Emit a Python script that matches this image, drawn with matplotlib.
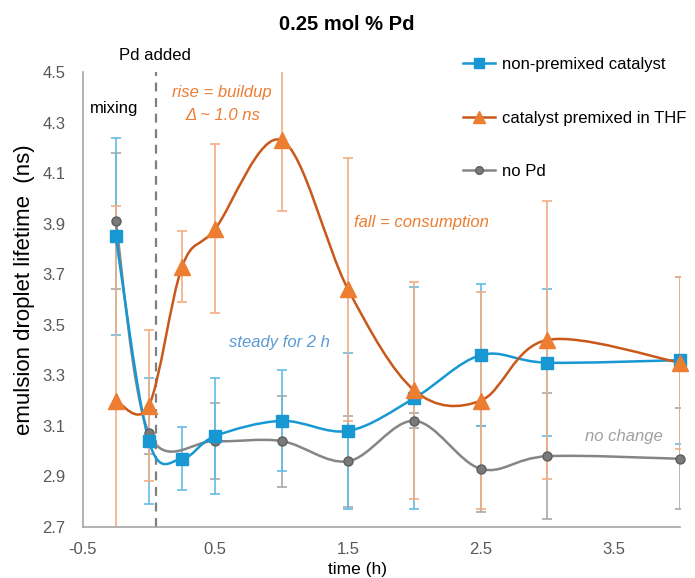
import numpy as np
import matplotlib
matplotlib.use("Agg")
import matplotlib.pyplot as plt
from matplotlib.path import Path
from matplotlib.patches import PathPatch
from matplotlib.lines import Line2D

plt.rcParams['font.family'] = ['Liberation Sans', 'DejaVu Sans']

# time points (h)
t_cat = [-0.25, 0.0, 0.25, 0.5, 1.0, 1.5, 2.0, 2.5, 3.0, 4.0]
t_nopd = [-0.25, 0.0, 0.5, 1.0, 1.5, 2.0, 2.5, 3.0, 4.0]

# emulsion droplet lifetime (ns) and error bars
nonpremixed = [3.85, 3.04, 2.97, 3.06, 3.12, 3.08, 3.21, 3.38, 3.35, 3.36]
nonpremixed_err = [0.39, 0.25, 0.125, 0.23, 0.20, 0.31, 0.44, 0.28, 0.29, 0.33]

premixed = [3.20, 3.18, 3.73, 3.88, 4.23, 3.64, 3.24, 3.20, 3.44, 3.35]
premixed_err = [0.77, 0.30, 0.14, 0.335, 0.28, 0.52, 0.43, 0.43, 0.55, 0.34]

nopd = [3.91, 3.07, 3.04, 3.04, 2.96, 3.12, 2.93, 2.98, 2.97]
nopd_err = [0.27, 0.08, 0.15, 0.18, 0.18, 0.03, 0.17, 0.25, 0.20]

labels = ["non-premixed catalyst", "catalyst premixed in THF", "no Pd"]
x_ticks = [-0.5, 0.5, 1.5, 2.5, 3.5]
y_ticks = [2.7, 2.9, 3.1, 3.3, 3.5, 3.7, 3.9, 4.1, 4.3, 4.5]
t_pd_added = 0.05


def smooth_path(x, y):
    # Excel-style smoothed line: cubic bezier through every point
    x = np.asarray(x, float)
    y = np.asarray(y, float)
    pts = np.column_stack([x, y])
    verts = [pts[0]]
    codes = [Path.MOVETO]
    n = len(pts)
    for i in range(n - 1):
        p0 = pts[i - 1] if i > 0 else pts[i]
        p1 = pts[i]
        p2 = pts[i + 1]
        p3 = pts[i + 2] if i + 2 < n else pts[i + 1]
        c1 = p1 + (p2 - p0) / 6.0
        c2 = p2 - (p3 - p1) / 6.0
        verts += [c1, c2, p2]
        codes += [Path.CURVE4] * 3
    return Path(verts, codes)


fig = plt.figure(figsize=(6.95, 5.78), dpi=100)
ax = fig.add_axes([82.5 / 695, 51 / 578, 597.5 / 695, 455 / 578])

blue = '#1798D3'
blue_err = '#63BDE6'
orange = '#ED7D31'
orange_line = '#C9581A'
orange_err = '#F2AE85'
grey = '#7A7A7A'
grey_line = '#858585'
grey_err = '#A9A9A9'

# error bars
ax.errorbar(t_nopd, nopd, yerr=nopd_err, fmt='none', ecolor=grey_err,
            elinewidth=1.2, capsize=3.5, capthick=1.2, zorder=2)
ax.errorbar(t_cat, nonpremixed, yerr=nonpremixed_err, fmt='none', ecolor=blue_err,
            elinewidth=1.2, capsize=3.5, capthick=1.2, zorder=2)
ax.errorbar(t_cat, premixed, yerr=premixed_err, fmt='none', ecolor=orange_err,
            elinewidth=1.2, capsize=3.5, capthick=1.2, zorder=2)

# smoothed lines
ax.add_patch(PathPatch(smooth_path(t_nopd, nopd), fill=False, ec=grey_line, lw=1.8, zorder=3))
ax.add_patch(PathPatch(smooth_path(t_cat, nonpremixed), fill=False, ec=blue, lw=1.8, zorder=3))
ax.add_patch(PathPatch(smooth_path(t_cat, premixed), fill=False, ec=orange_line, lw=1.8, zorder=3))

# markers
ax.plot(t_nopd, nopd, 'o', color=grey, mec='#5E5E5E', ms=6.5, zorder=4, clip_on=False)
ax.plot(t_cat, nonpremixed, 's', color=blue, mec=blue, ms=8, zorder=5, clip_on=False)
ax.plot(t_cat, premixed, '^', color=orange, mec=orange, ms=11.5, zorder=6, clip_on=False)

# Pd added marker
ax.plot([t_pd_added, t_pd_added], [2.7, 4.5], color='#7F7F7F', lw=1.6,
        ls=(0, (4, 3)), zorder=1)

ax.set_xlim(-0.5, 4.0)
ax.set_ylim(2.7, 4.5)
ax.set_xticks(x_ticks)
ax.set_xticklabels([f"{v:.1f}" for v in x_ticks])
ax.set_yticks(y_ticks)
ax.set_yticklabels([f"{v:.1f}" for v in y_ticks])
ax.tick_params(length=0, labelsize=12, labelcolor='#595959')
ax.tick_params(axis='x', pad=11)
ax.tick_params(axis='y', pad=12.5)
for s in ['top', 'right']:
    ax.spines[s].set_visible(False)
for s in ['left', 'bottom']:
    ax.spines[s].set_color('#A6A6A6')
    ax.spines[s].set_linewidth(1.2)

ax.set_xlabel("time (h)", fontsize=12.5)
ax.xaxis.set_label_coords((357 - 82.5) / 597.5, -0.077)
ax.set_ylabel("emulsion droplet lifetime  (ns)", fontsize=16)
ax.yaxis.set_label_coords((25 - 82.5) / 597.5, (527 - 290) / 455)
ax.yaxis.label.set_va('center')
fig.text(347 / 695, 1 - 25 / 578, "0.25 mol % Pd", ha='center', va='center',
         fontsize=14.5, fontweight='bold')

# annotations
fig.text(155 / 695, 1 - 55 / 578, "Pd added", ha='center', va='center', fontsize=12)
fig.text(114 / 695, 1 - 108 / 578, "mixing", ha='center', va='center', fontsize=12)
fig.text(222 / 695, 1 - 93 / 578, "rise = buildup", ha='center', va='center',
         fontsize=12, style='italic', color=orange)
fig.text(223 / 695, 1 - 116 / 578, "Δ ~ 1.0 ns", ha='center', va='center',
         fontsize=12, style='italic', color=orange)
fig.text(421 / 695, 1 - 223 / 578, "fall = consumption", ha='center', va='center',
         fontsize=12, style='italic', color=orange)
fig.text(279 / 695, 1 - 343 / 578, "steady for 2 h", ha='center', va='center',
         fontsize=12, style='italic', color='#5B9BD5')
fig.text(624 / 695, 1 - 436 / 578, "no change", ha='center', va='center',
         fontsize=12, style='italic', color='#A0A0A0')

handles = [
    Line2D([], [], color=blue, lw=1.8, marker='s', ms=6.5, mec=blue),
    Line2D([], [], color=orange_line, lw=1.8, marker='^', ms=8.5, mfc=orange, mec=orange),
    Line2D([], [], color=grey_line, lw=1.8, marker='o', ms=5.5, mfc=grey, mec='#5E5E5E'),
]
fig.legend(handles, labels, loc='upper left', bbox_to_anchor=(463 / 695, 1 - 57 / 578),
           frameon=False, fontsize=12, handlelength=1.9, handletextpad=0.45,
           labelspacing=2.32, borderpad=0, borderaxespad=0)

fig.savefig("out.png", dpi=100)
